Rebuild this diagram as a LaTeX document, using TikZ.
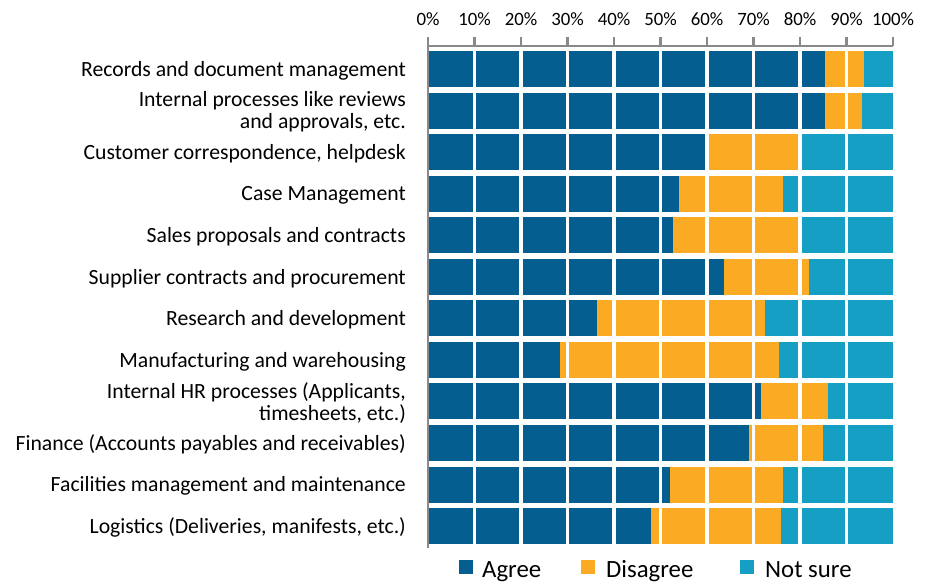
\documentclass[tikz,border=0pt]{standalone}
\usepackage{fontspec}
\setmainfont{Carlito}
\definecolor{agree}{RGB}{4,94,143}
\definecolor{disagree}{RGB}{251,170,35}
\definecolor{notsure}{RGB}{21,159,196}
\definecolor{axisgray}{RGB}{137,137,137}
\tikzset{
  catlabel/.style={anchor=east, align=right, inner sep=0pt, font=\fontsize{21.7}{21.9}\selectfont},
  ticklabel/.style={anchor=base, inner sep=0pt, font=\fontsize{18.8}{22}\selectfont},
  legtext/.style={anchor=base west, inner sep=0pt, font=\fontsize{24.8}{28}\selectfont},
  axisline/.style={draw=axisgray, line width=2.5pt},
  gridw/.style={draw=white, line width=3.5pt},
}
\begin{document}
\begin{tikzpicture}[x=1pt,y=-1pt]
\useasboundingbox (0,0) rectangle (936,582);
% bars
\foreach \i/\a/\d/\lab in {
0/85.4/93.8/{Records and document management},
1/85.4/93.3/{Internal processes like reviews\\and approvals, etc.},
2/60/80.3/{Customer correspondence, helpdesk},
3/54/76.3/{Case Management},
4/52.7/80.2/{Sales proposals and contracts},
5/63.7/82/{Supplier contracts and procurement},
6/36.3/72.5/{Research and development},
7/28.4/75.5/{Manufacturing and warehousing},
8/71.6/86/{Internal HR processes (Applicants,\\timesheets, etc.)},
9/69/85/{Finance (Accounts payables and receivables)},
10/52/76.3/{Facilities management and maintenance},
11/48/75.9/{Logistics (Deliveries, manifests, etc.)}}{
  \pgfmathsetmacro\yc{69+41.55*\i}
  \pgfmathsetmacro\xa{428+4.65*\a}
  \pgfmathsetmacro\xd{428+4.65*\d}
  \fill[agree] (428,{\yc-18}) rectangle (\xa,{\yc+18});
  \fill[disagree] (\xa,{\yc-18}) rectangle (\xd,{\yc+18});
  \fill[notsure] (\xd,{\yc-18}) rectangle (893,{\yc+18});
  \node[catlabel] (lab\i) at (406,{\yc+1.5}) {\lab};
}
% white gridlines
\foreach \k in {1,...,9}{
  \draw[gridw] ({428+46.5*\k},48) -- ({428+46.5*\k},546);
}
% axes
\draw[axisline] (428,37) -- (428,548);
\draw[axisline] (428,46) -- (893,46);
\foreach \k in {1,...,10}{
  \draw[axisline] ({428+46.5*\k},37) -- ({428+46.5*\k},46);
}
\foreach \k in {0,...,10}{
  \pgfmathtruncatemacro\pc{10*\k}
  \node[ticklabel] (t\k) at ({428+46.5*\k},25) {\pc\%};
}
% legend
\fill[agree] (459,560) rectangle (473,574);
\node[legtext] (lagree) at (482,577) {Agree};
\fill[disagree] (581,560) rectangle (595,574);
\node[legtext] (ldis) at (606,577) {Disagree};
\fill[notsure] (740,560) rectangle (754,574);
\node[legtext] (lnot) at (765,577) {Not sure};
\end{tikzpicture}
\end{document}
